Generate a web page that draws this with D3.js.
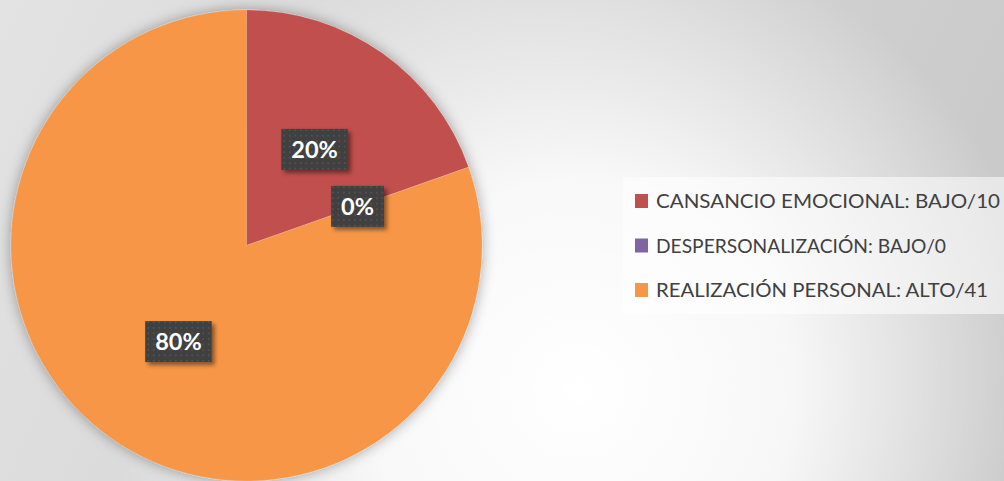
<!DOCTYPE html>
<html><head><meta charset="utf-8">
<script src="https://cdn.jsdelivr.net/npm/d3@7"></script>
<style>html,body{margin:0;padding:0;overflow:hidden;background:#fff}</style>
</head><body>
<svg id="chart" width="1004" height="481"></svg>
<script>
const categories = ["CANSANCIO EMOCIONAL: BAJO/10", "DESPERSONALIZACIÓN: BAJO/0", "REALIZACIÓN PERSONAL: ALTO/41"];
const values = [10, 0, 41];
const colors = ["#C0504D", "#8064A2", "#F79646"];

const W = 1004, H = 481;
const svg = d3.select("#chart");
const defs = svg.append("defs");

// background gradients
const lin = defs.append("linearGradient").attr("id","bgLin").attr("gradientUnits","userSpaceOnUse")
  .attr("x1",0).attr("y1",0).attr("x2",W).attr("y2",H);
lin.append("stop").attr("offset",0).attr("stop-color","#e3e3e3");
lin.append("stop").attr("offset",1).attr("stop-color","#c6c6c6");
const rad = defs.append("radialGradient").attr("id","bgRad").attr("gradientUnits","userSpaceOnUse")
  .attr("cx",580).attr("cy",390).attr("r",470);
rad.append("stop").attr("offset",0).attr("stop-color","#fff").attr("stop-opacity",1);
rad.append("stop").attr("offset",0.45).attr("stop-color","#fff").attr("stop-opacity",0.85);
rad.append("stop").attr("offset",1).attr("stop-color","#fff").attr("stop-opacity",0);

svg.append("rect").attr("width",W).attr("height",H).attr("fill","url(#bgLin)");
svg.append("rect").attr("width",W).attr("height",H).attr("fill","url(#bgRad)");

// filters
const pf = defs.append("filter").attr("id","pieShadow").attr("x","-20%").attr("y","-20%").attr("width","140%").attr("height","140%");
pf.append("feDropShadow").attr("dx",0).attr("dy",0).attr("stdDeviation",7).attr("flood-color","#000").attr("flood-opacity",0.35);
const lf = defs.append("filter").attr("id","lblShadow").attr("x","-30%").attr("y","-30%").attr("width","160%").attr("height","160%");
lf.append("feDropShadow").attr("dx",3).attr("dy",3).attr("stdDeviation",2.2).attr("flood-color","#000").attr("flood-opacity",0.45);

// dotted pattern for label boxes
const pat = defs.append("pattern").attr("id","dots").attr("patternUnits","userSpaceOnUse")
  .attr("width",5.5).attr("height",5.5);
pat.append("rect").attr("width",5.5).attr("height",5.5).attr("fill","#404040");
pat.append("circle").attr("cx",2.75).attr("cy",2.75).attr("r",0.9).attr("fill","#575757");

// pie
const cx = 246.5, cy = 245.5, R = 235.5;
const total = d3.sum(values);
const pie = d3.pie().sort(null).value(d => d.v).startAngle(0).endAngle(2*Math.PI);
const data = pie(values.map((v,i)=>({v, c: colors[i], name: categories[i]})));
const arc = d3.arc().innerRadius(0).outerRadius(R);

const g = svg.append("g").attr("transform",`translate(${cx},${cy})`);
g.append("g").attr("filter","url(#pieShadow)")
  .selectAll("path").data(data).join("path")
  .attr("d",arc).attr("fill",d=>d.data.c)
  .attr("stroke","#fff").attr("stroke-opacity",0.2).attr("stroke-width",0.6);

// labels
const lblG = g.append("g");
data.forEach(d => {
  const [x,y] = arc.centroid(d);
  const txt = Math.round(d.data.v/total*100) + "%";
  const lg = lblG.append("g").attr("transform",`translate(${x},${y})`);
  const rect = lg.append("rect").attr("fill","url(#dots)").attr("filter","url(#lblShadow)");
  const t = lg.append("text").text(txt)
    .attr("text-anchor","middle").attr("dy","0.36em")
    .attr("font-family","Lato, 'Open Sans', sans-serif").attr("font-weight","bold")
    .attr("font-size",23.5).attr("fill","#fff");
  const w = t.node().getComputedTextLength() + 20;
  rect.attr("x",-w/2).attr("y",-20.5).attr("width",w).attr("height",41);
});

// legend
const lx = 623, ly = 177;
svg.append("rect").attr("x",lx).attr("y",ly).attr("width",W-lx).attr("height",137)
  .attr("fill","#fff").attr("fill-opacity",0.55);
const leg = svg.append("g");
const baseY = [208, 252.5, 297];
const widths = [344, 290, 332];
categories.forEach((c,i) => {
  leg.append("rect").attr("x",635).attr("y",baseY[i]-14).attr("width",13).attr("height",14).attr("fill",colors[i]);
  leg.append("text").text(c).attr("x",656).attr("y",baseY[i])
    .attr("font-family","Lato, sans-serif").attr("font-size",20).attr("fill","#404040")
    .attr("textLength",widths[i]).attr("lengthAdjust","spacingAndGlyphs");
});
</script>
</body></html>
